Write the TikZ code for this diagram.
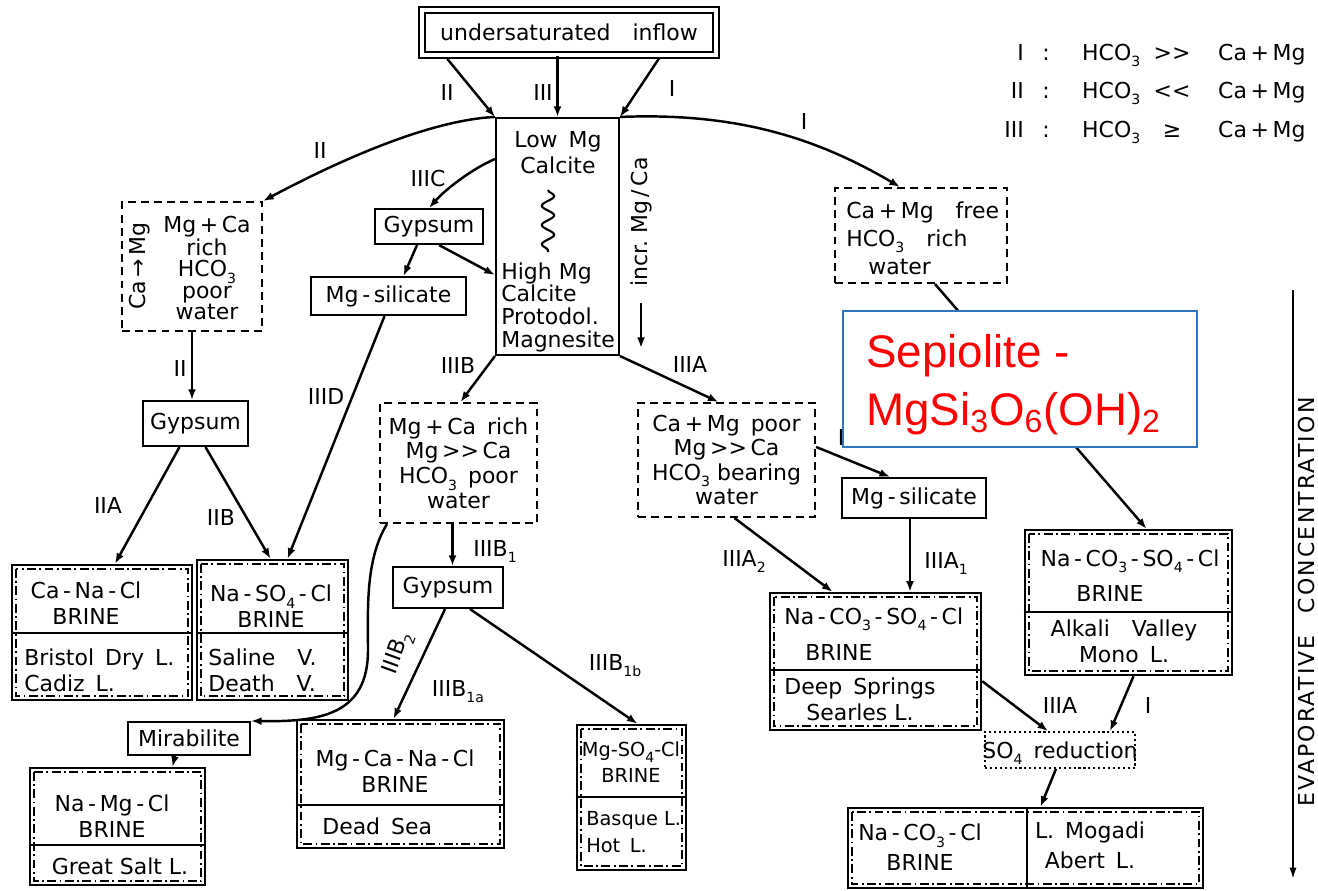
\documentclass[tikz,border=0pt]{standalone}
\usepackage{fontspec}
\setmainfont{DejaVu Sans}
\newfontfamily\sepfont{Liberation Sans}
\usetikzlibrary{arrows.meta,fit,decorations.pathmorphing}
\newcommand{\lowsub}[1]{\raisebox{-0.55ex}[0pt][0pt]{\footnotesize #1}}
\definecolor{sepblue}{RGB}{46,117,190}
\definecolor{sepred}{RGB}{255,0,0}

\begin{document}
\begin{tikzpicture}[x=0.02cm,y=-0.02cm,
  font=\fontsize{12.5}{14}\selectfont,
  >={Latex[length=6pt,width=4.5pt]},
  box/.style={draw,line width=1.2pt,inner sep=0pt},
  wbox/.style={draw,line width=1.2pt,inner sep=0pt,dash pattern=on 4.5pt off 3pt},
  brine/.style={draw,line width=1.4pt,inner sep=0pt},
  dots/.style={draw,line width=1pt,inner sep=0pt,dash pattern=on 1.2pt off 1.6pt},
  ddot/.style={line width=0.9pt,dash pattern=on 5pt off 2pt on 1pt off 2pt},
  flow/.style={line width=1.4pt,->},
  lbl/.style={inner sep=1pt},
  brt/.style={align=center,inner sep=0pt,font=\fontsize{12.5}{14.7}\selectfont}]
\path[use as bounding box,fill=white] (0,0) rectangle (1318,890);

% legend
\foreach \n/\r/\y in {I/{>{}>}/60,II/{<{}<}/98,III/{≥}/137}{
  \node[anchor=base east] (leg-n\y) at (1030,\y) {\n};
  \node[anchor=base] (leg-c\y) at (1046,\y) {:};
  \node[anchor=base west] (leg-h\y) at (1076,\y) {HCO\lowsub{3}};
  \node[anchor=base] (leg-r\y) at (1172,\y) {\r};
  \node[anchor=base west] (leg-m\y) at (1212,\y) {Ca\,+\,Mg};
}

% source and carbonate column
\node[box,double,double distance=2.6pt,line width=0.9pt,fit={(422,10)(716,55)}] (inflow) {};
\node[brt] (inflow-t) at (inflow) {undersaturated\quad inflow};
\node[box,fit={(496,118)(619,355)}] (calc) {};
\node[brt] (calc-lo) at (558,153) {Low\enspace Mg\\Calcite};
\node[align=left,inner sep=0pt,anchor=north west,font=\fontsize{12.5}{13}\selectfont] (calc-hi) at (501,262) {High Mg\\Calcite\\Protodol.\\Magnesite};
\draw[line width=1.2pt,decorate,decoration={snake,amplitude=3.5pt,segment length=11pt}] (548,190) -- (548,252);
\node[rotate=90] (incr) at (641,222) {incr.\ Mg\,/\,Ca};
\coordinate (incr-end) at (641,348);
\draw[flow,line width=1.2pt] ([shift={(0,10)}]incr.west) -- (incr-end);

% waters
\node[wbox,fit={(122,202)(262,331)}] (wII) {};
\node[brt,font=\fontsize{12.5}{12}\selectfont] (wII-t) at (207,268) {Mg\,+\,Ca\\rich\\HCO\lowsub{3}\\poor\\water};
\node[rotate=90] (wII-side) at (140,266) {Ca\,→\,Mg};
\node[wbox,fit={(380,403)(537,523)}] (wIIIB) {};
\node[brt,font=\fontsize{12.5}{14}\selectfont] (wIIIB-t) at (wIIIB) {Mg\,+\,Ca\enspace rich\\Mg\,>{}>\,Ca\\HCO\lowsub{3}\enspace poor\\water};
\node[wbox,fit={(638,403)(815,517)}] (wIIIA) {};
\node[brt,font=\fontsize{12.5}{14}\selectfont] (wIIIA-t) at (wIIIA) {Ca\,+\,Mg\enspace poor\\Mg\,>{}>\,Ca\\HCO\lowsub{3} bearing\\water};
\node[wbox,fit={(835,188)(1007,283)}] (wI) {};
\node[align=left,inner sep=0pt,anchor=west,font=\fontsize{12.5}{16}\selectfont] (wI-t) at (846,238) {Ca\,+\,Mg\quad free\\HCO\lowsub{3}\quad rich\\\quad water};

% minerals
\node[box,fit={(143,401)(248,446)}] (gypL) {};
\node[brt] (gypL-t) at (gypL) {Gypsum};
\node[box,fit={(375,209)(483,244)}] (gypC) {};
\node[brt] (gypC-t) at (gypC) {Gypsum};
\node[box,fit={(311,277)(466,315)}] (mgsL) {};
\node[brt] (mgsL-t) at (mgsL) {Mg\,-\,silicate};
\node[box,fit={(393,567)(503,608)}] (gypB) {};
\node[brt] (gypB-t) at (gypB) {Gypsum};
\node[box,fit={(128,722)(250,755)}] (mirab) {};
\node[brt] (mirab-t) at (mirab) {Mirabilite};
\node[box,fit={(842,478)(986,518)}] (mgsR) {};
\node[brt] (mgsR-t) at (mgsR) {Mg\,-\,silicate};
\node[dots,fit={(985,732)(1135,768)}] (so4) {};
\node[brt] (so4-t) at (so4) {SO\lowsub{4}\enspace reduction};

% brines
\node[brine,fit={(12,565)(192,700)}] (cana) {};
\node[brt] (cana-a) at (86,603) {Ca\,-\,Na\,-\,Cl\\BRINE};
\node[brt,align=left,anchor=west] (cana-b) at (24,670) {Bristol\enspace Dry\enspace L.\\Cadiz\enspace L.};
\node[brine,fit={(197,560)(348,700)}] (naso) {};
\node[brt] (naso-a) at (271,606) {Na\,-\,SO\lowsub{4}\,-\,Cl\\BRINE};
\node[brt,align=left,anchor=west] (naso-b) at (208,670) {Saline\quad V.\\Death\quad V.};
\node[brine,fit={(30,768)(205,885)}] (namg) {};
\node[brt] (namg-a) at (112,816) {Na\,-\,Mg\,-\,Cl\\BRINE};
\node[brt] (namg-b) at (120,866) {Great Salt L.};
\node[brine,fit={(297,720)(504,848)}] (mgca) {};
\node[brt] (mgca-a) at (395,771) {Mg\,-\,Ca\,-\,Na\,-\,Cl\\BRINE};
\node[brt,anchor=west] (mgca-b) at (322,826) {Dead\enspace Sea};
\node[brine,fit={(577,725)(686,870)}] (mgso) {};
\node[brt,font=\fontsize{11}{14.7}\selectfont] (mgso-a) at (631,762) {Mg-SO\lowsub{4}-Cl\\BRINE};
\node[brt,align=left,anchor=west,font=\fontsize{11}{15.5}\selectfont] (mgso-b) at (586,832) {Basque L.\\Hot\enspace L.};
\node[brine,fit={(770,593)(981,730)}] (ncsm) {};
\node[brt,anchor=west] (ncsm-a) at (784,616) {Na\,-\,CO\lowsub{3}\,-\,SO\lowsub{4}\,-\,Cl};
\node[brt,anchor=west] (ncsm-b) at (805,652) {BRINE};
\node[brt] (ncsm-c) at (860,699) {Deep\enspace Springs\\Searles L.};
\node[brine,fit={(1025,530)(1232,675)}] (ncsr) {};
\node[brt] (ncsr-a) at (1130,558) {Na\,-\,CO\lowsub{3}\,-\,SO\lowsub{4}\,-\,Cl};
\node[brt] (ncsr-b) at (1110,593) {BRINE};
\node[brt] (ncsr-c) at (1124,641) {Alkali\quad Valley\\Mono\enspace L.};
\node[brine,fit={(848,808)(1203,888)}] (ncc) {};
\node[brt,font=\fontsize{12.5}{17}\selectfont] (ncc-a) at (920,847) {Na\,-\,CO\lowsub{3}\,-\,Cl\\BRINE};
\node[brt,font=\fontsize{12.5}{17}\selectfont] (ncc-b) at (1090,845) {L.\enspace Mogadi\\Abert\enspace L.};
\foreach \b/\d in {cana/633,naso/633,namg/845,mgca/805,mgso/797,ncsm/670,ncsr/612}{
  \coordinate (dv) at (0,\d);
  \draw[line width=1.2pt] (\b.west |- dv) -- (\b.east |- dv);
}
\coordinate (vdiv) at (1027,0);
\draw[line width=1.2pt] (vdiv |- ncc.north) -- (vdiv |- ncc.south);
\foreach \b in {cana,naso,namg,mgca,mgso,ncsm,ncsr,ncc}
  \draw[ddot] ([shift={(5,5)}]\b.north west) rectangle ([shift={(-5,-5)}]\b.south east);

% paths
\draw[flow] ([shift={(26,3)}]inflow.south west) -- (calc.north west);
\draw[flow] (calc.north |- inflow.south) -- (calc.north);
\draw[flow] ([shift={(-58,3)}]inflow.south east) -- (calc.north east);
\node[lbl] (l-ii1) at (447,92) {II};
\node[lbl] (l-iii1) at (543,92) {III};
\node[lbl] (l-i1) at (672,88) {I};
\draw[flow] (calc.north west) .. controls (430,120) and (340,160) .. (wII.north east);
\node[lbl] (l-ii2) at (320,150) {II};
\draw[flow] (calc.north east) .. controls (740,112) and (820,140) .. ([shift={(-21,0)}]wI.north);
\node[lbl] (l-i2) at (804,121) {I};
\draw[flow] ([shift={(0,42)}]calc.north west) .. controls (470,170) and (445,190) .. (gypC.north);
\node[lbl] (l-iiic) at (428,178) {IIIC};
\draw[flow] ([shift={(10,0)}]gypC.south) -- ([shift={(0,158)}]calc.north west);
\draw[flow] ([shift={(-12,0)}]gypC.south) -- ([shift={(15,0)}]mgsL.north);
\draw[flow] (wII.south) -- (wII.south |- gypL.north);
\node[lbl] (l-ii3) at (180,368) {II};
\draw[flow] ([shift={(-16,0)}]gypL.south) -- ([shift={(13,0)}]cana.north);
\node[lbl] (l-iia) at (108,505) {IIA};
\draw[flow] ([shift={(10,0)}]gypL.south) -- ([shift={(-2,0)}]naso.north);
\node[lbl] (l-iib) at (221,517) {IIB};
\draw[flow] ([shift={(-4,0)}]mgsL.south) -- ([shift={(15,0)}]naso.north);
\node[lbl] (l-iiid) at (326,396) {IIID};
\draw[flow] (calc.south west) -- ([shift={(2,0)}]wIIIB.north);
\node[lbl] (l-iiib) at (458,365) {IIIB};
\draw[flow] (calc.south east) -- ([shift={(-8,0)}]wIIIA.north);
\node[lbl] (l-iiia) at (690,364) {IIIA};
\draw[flow] ([shift={(-6,0)}]wIIIB.south) -- ([shift={(-6,0)}]wIIIB.south |- gypB.north);
\node[lbl] (l-iiib1) at (495,548) {IIIB\lowsub{1}};
\draw[flow] ([shift={(8,0)}]wIIIB.south west) .. controls (365,560) and (368,610) .. (368,650) .. controls (368,715) and (320,722) .. (mirab.north east);
\node[lbl,rotate=70] (l-iiib2) at (395,652) {IIIB\lowsub{2}};
\draw[flow] ([shift={(-14,0)}]mirab.south) -- ([shift={(55,0)}]namg.north);
\draw[flow] ([shift={(-3,0)}]gypB.south) -- ([shift={(-7,0)}]mgca.north);
\node[lbl] (l-iiib1a) at (458,688) {IIIB\lowsub{1a}};
\draw[flow] ([shift={(22,0)}]gypB.south) -- ([shift={(6,0)}]mgso.north);
\node[lbl] (l-iiib1b) at (615,662) {IIIB\lowsub{1b}};
\draw[flow] ([shift={(0,45)}]wIIIA.north east) -- ([shift={(-24,0)}]mgsR.north);
\node[lbl] (l-hid) at (841,437) {I};
\draw[flow] ([shift={(-4,0)}]mgsR.south) -- ([shift={(-4,0)}]mgsR.south |- ncsm.north);
\node[lbl] (l-iiia1) at (946,560) {IIIA\lowsub{1}};
\draw[flow] ([shift={(8,0)}]wIIIA.south) -- ([shift={(-43,0)}]ncsm.north);
\node[lbl] (l-iiia2) at (744,558) {IIIA\lowsub{2}};
\draw[flow] ([shift={(14,0)}]wI.south) -- ([shift={(18,0)}]ncsr.north);
\draw[flow] ([shift={(0,-50)}]ncsm.south east) -- ([shift={(-12,0)}]so4.north);
\node[lbl] (l-iiia3) at (1060,705) {IIIA};
\draw[flow] ([shift={(5,0)}]ncsr.south) -- ([shift={(50,0)}]so4.north);
\node[lbl] (l-i3) at (1148,705) {I};
\draw[flow] ([shift={(-4,0)}]so4.south) -- ([shift={(15,0)}]ncc.north);

% evaporation axis
\coordinate (ev-top) at (1293,290);
\coordinate (ev-bot) at (1293,880);
\draw[line width=1.6pt,-{Latex[length=7pt,width=4pt]}] (ev-top) -- (ev-bot);
\node[rotate=90,inner sep=0pt,font=\fontsize{12.5}{14}\selectfont\addfontfeature{LetterSpace=10}] (ev-lbl) at (1306,602) {EVAPORATIVE\quad CONCENTRATION};

% overlay note
\node[draw=sepblue,fill=white,line width=1pt,inner sep=0pt,fit={(843,311)(1197,447)}] (sepio) {};
\node[anchor=north west,align=left,inner sep=0pt,text=sepred,font=\sepfont\fontsize{26}{33}\selectfont] (sepio-t) at (866,334) {Sepiolite -\\MgSi\textsubscript{3}O\textsubscript{6}(OH)\textsubscript{2}};
\end{tikzpicture}
\end{document}
